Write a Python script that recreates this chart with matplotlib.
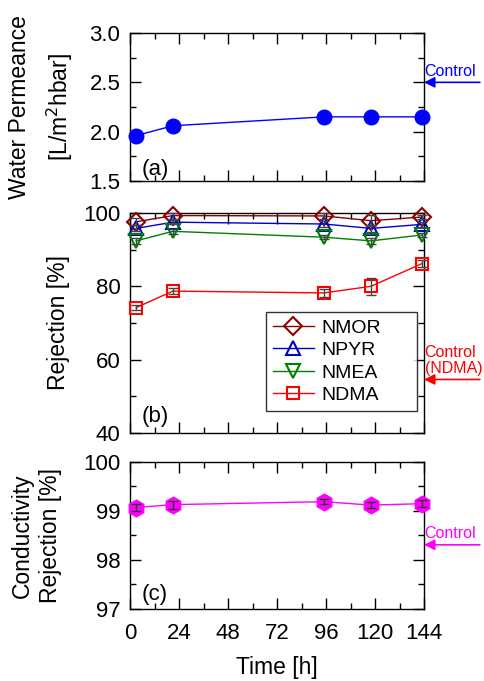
import matplotlib
matplotlib.use("Agg")
import matplotlib.pyplot as plt
from matplotlib.ticker import MultipleLocator

plt.rcParams['font.family'] = ['Liberation Sans', 'DejaVu Sans']

time_h = [3, 21, 95, 118, 143]

permeance = [1.96, 2.06, 2.15, 2.15, 2.15]
permeance_control = 2.5

nmor = [97.6, 99.3, 99.2, 97.9, 98.9]
nmor_err = [1.0, 0.8, 0.8, 1.5, 0.6]
npyr = [95.8, 97.5, 97.0, 95.8, 96.9]
npyr_err = [0.8, 0.6, 0.8, 1.0, 0.6]
nmea = [92.4, 95.0, 93.4, 92.4, 94.0]
nmea_err = [0.8, 0.6, 0.6, 0.8, 0.6]
ndma = [74.2, 78.7, 78.2, 80.0, 86.2]
ndma_err = [0.6, 0.8, 1.0, 2.4, 1.0]
ndma_control = 54.6

cond = [99.07, 99.13, 99.19, 99.12, 99.15]
cond_err = [0.07, 0.08, 0.05, 0.06, 0.07]
cond_control = 98.31

fig = plt.figure(figsize=(4.84, 6.81), dpi=100)
W, H = 484, 681


def make_axes(top, bottom):
    left, right = 130, 424
    return fig.add_axes([left / W, 1 - bottom / H, (right - left) / W, (bottom - top) / H])


def style(ax, ylim, major, minor, show_x):
    ax.set_xlim(0, 144)
    ax.set_ylim(*ylim)
    ax.xaxis.set_major_locator(MultipleLocator(24))
    ax.xaxis.set_minor_locator(MultipleLocator(12))
    ax.yaxis.set_major_locator(MultipleLocator(major))
    ax.yaxis.set_minor_locator(MultipleLocator(minor))
    ax.tick_params(which='both', direction='in', top=True, right=True, labelsize=16)
    ax.tick_params(which='major', length=8, width=1)
    ax.tick_params(which='minor', length=4, width=1)
    ax.tick_params(axis='y', pad=7)
    ax.tick_params(axis='x', pad=10)
    if not show_x:
        ax.tick_params(labelbottom=False)
    for s in ax.spines.values():
        s.set_linewidth(1)


def control_arrow(ax, yval, label, color):
    ax.annotate('', xy=(1.0, yval), xycoords=('axes fraction', 'data'),
                xytext=(1.19, yval), textcoords=('axes fraction', 'data'),
                arrowprops=dict(arrowstyle='-|>', color=color, lw=1.2,
                                mutation_scale=16, shrinkA=0, shrinkB=0),
                annotation_clip=False)
    ax.annotate(label, xy=(1.0, yval), xycoords=('axes fraction', 'data'),
                xytext=(0.5, 2.5), textcoords='offset points', color=color,
                fontsize=11.5, ha='left', va='bottom', linespacing=1.05,
                annotation_clip=False)


# (a) water permeance
ax1 = make_axes(33, 181)
ax1.plot(time_h, permeance, color='blue', lw=1, marker='o', ms=10.5, clip_on=False, zorder=3)
style(ax1, (1.5, 3.0), 0.5, 0.25, False)
ax1.yaxis.set_major_formatter(plt.FormatStrFormatter('%.1f'))
ax1.set_ylabel('Water Permeance\n[L/m$^2$hbar]', fontsize=16.5, linespacing=1.6)
ax1.yaxis.set_label_coords(-0.187, 0.5)
ax1.text(0.04, 0.04, '(a)', transform=ax1.transAxes, fontsize=16)
control_arrow(ax1, permeance_control, 'Control', 'blue')

# (b) rejection of nitrosamines
ax2 = make_axes(213, 433)
series = [('NMOR', nmor, nmor_err, 'D', '#8b0000', 9),
          ('NPYR', npyr, npyr_err, '^', '#0000cc', 10),
          ('NMEA', nmea, nmea_err, 'v', 'green', 10),
          ('NDMA', ndma, ndma_err, 's', 'red', 8.5)]
for name, vals, errs, mk, col, ms in series:
    ax2.plot(time_h, vals, color=col, lw=1, marker=mk, ms=ms, mfc='none',
             mec=col, mew=1.5, label=name, clip_on=False, zorder=3)
    ax2.errorbar(time_h, vals, yerr=errs, fmt='none', ecolor='#444444',
                 elinewidth=1, capsize=3.5, clip_on=False, zorder=4)
style(ax2, (40, 100), 20, 10, False)
ax2.set_ylabel('Rejection [%]', fontsize=16.5)
ax2.yaxis.set_label_coords(-0.204, 0.5)
ax2.text(0.04, 0.05, '(b)', transform=ax2.transAxes, fontsize=16)
leg = ax2.legend(loc='lower left', bbox_to_anchor=(0.463, 0.1, 0.514, 0.445),
                 mode='expand', fontsize=14, borderaxespad=0,
                 frameon=True, fancybox=False, edgecolor='black',
                 handlelength=2.1, handletextpad=0.4, labelspacing=0.25, borderpad=0.35)
leg.get_frame().set_linewidth(1)
control_arrow(ax2, ndma_control, 'Control\n(NDMA)', 'red')

# (c) conductivity rejection
ax3 = make_axes(462, 609)
ax3.plot(time_h, cond, color='magenta', lw=1, marker='h', ms=12,
         mfc='magenta', mec='magenta', clip_on=False, zorder=3)
ax3.errorbar(time_h, cond, yerr=cond_err, fmt='none', ecolor='#333333',
             elinewidth=1, capsize=3.5, clip_on=False, zorder=4)
style(ax3, (97, 100), 1, 0.5, True)
ax3.set_ylabel('Conductivity\nRejection [%]', fontsize=16.5, linespacing=1.3)
ax3.yaxis.set_label_coords(-0.231, 0.5)
ax3.set_xlabel('Time [h]', fontsize=16.5, labelpad=9)
ax3.text(0.04, 0.06, '(c)', transform=ax3.transAxes, fontsize=16)
control_arrow(ax3, cond_control, 'Control', 'magenta')

fig.savefig('out.png', dpi=100)
